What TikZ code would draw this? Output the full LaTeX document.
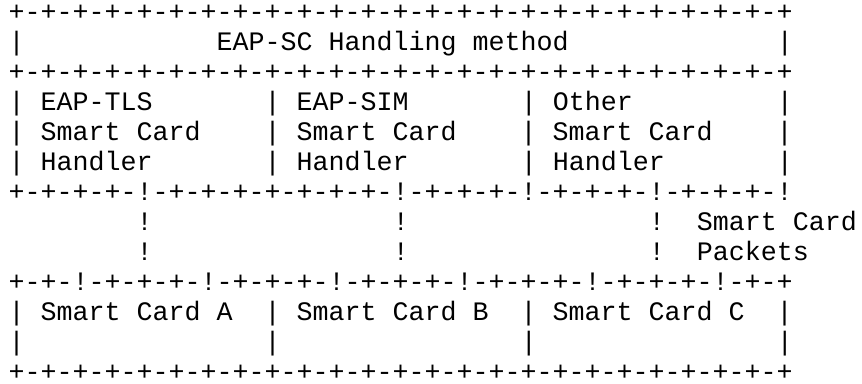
\documentclass[tikz,border=0pt]{standalone}
\usepackage{fontspec}
\setmonofont{Liberation Mono}
\begin{document}
\begin{tikzpicture}[x=0.75pt,y=-0.75pt,
  asciiline/.style={anchor=base west,inner sep=0pt,outer sep=0pt,
    font=\ttfamily\fontsize{20}{22.5}\selectfont,text=black}]
\useasboundingbox (0,0) rectangle (862,383);
\def\lx{8.7}
\node[asciiline] (l1)  at (\lx,20)  {+-+-+-+-+-+-+-+-+-+-+-+-+-+-+-+-+-+-+-+-+-+-+-+-+};
\node[asciiline] (l2)  at (\lx,50)  {|~~~~~~~~~~~~EAP-SC~Handling~method~~~~~~~~~~~~~|};
\node[asciiline] (l3)  at (\lx,80)  {+-+-+-+-+-+-+-+-+-+-+-+-+-+-+-+-+-+-+-+-+-+-+-+-+};
\node[asciiline] (l4)  at (\lx,110) {|~EAP-TLS~~~~~~~|~EAP-SIM~~~~~~~|~Other~~~~~~~~~|};
\node[asciiline] (l5)  at (\lx,140) {|~Smart~Card~~~~|~Smart~Card~~~~|~Smart~Card~~~~|};
\node[asciiline] (l6)  at (\lx,170) {|~Handler~~~~~~~|~Handler~~~~~~~|~Handler~~~~~~~|};
\node[asciiline] (l7)  at (\lx,200) {+-+-+-+-!-+-+-+-+-+-+-+-!-+-+-+-!-+-+-+-!-+-+-+-!};
\node[asciiline] (l8)  at (\lx,230) {~~~~~~~~!~~~~~~~~~~~~~~~!~~~~~~~~~~~~~~~!~~Smart~Card};
\node[asciiline] (l9)  at (\lx,260) {~~~~~~~~!~~~~~~~~~~~~~~~!~~~~~~~~~~~~~~~!~~Packets};
\node[asciiline] (l10) at (\lx,290) {+-+-!-+-+-+-!-+-+-+-!-+-+-+-!-+-+-+-!-+-+-+-!-+-+};
\node[asciiline] (l11) at (\lx,320) {|~Smart~Card~A~~|~Smart~Card~B~~|~Smart~Card~C~~|};
\node[asciiline] (l12) at (\lx,350) {|~~~~~~~~~~~~~~~|~~~~~~~~~~~~~~~|~~~~~~~~~~~~~~~|};
\node[asciiline] (l13) at (\lx,380) {+-+-+-+-+-+-+-+-+-+-+-+-+-+-+-+-+-+-+-+-+-+-+-+-+};
\end{tikzpicture}
\end{document}
